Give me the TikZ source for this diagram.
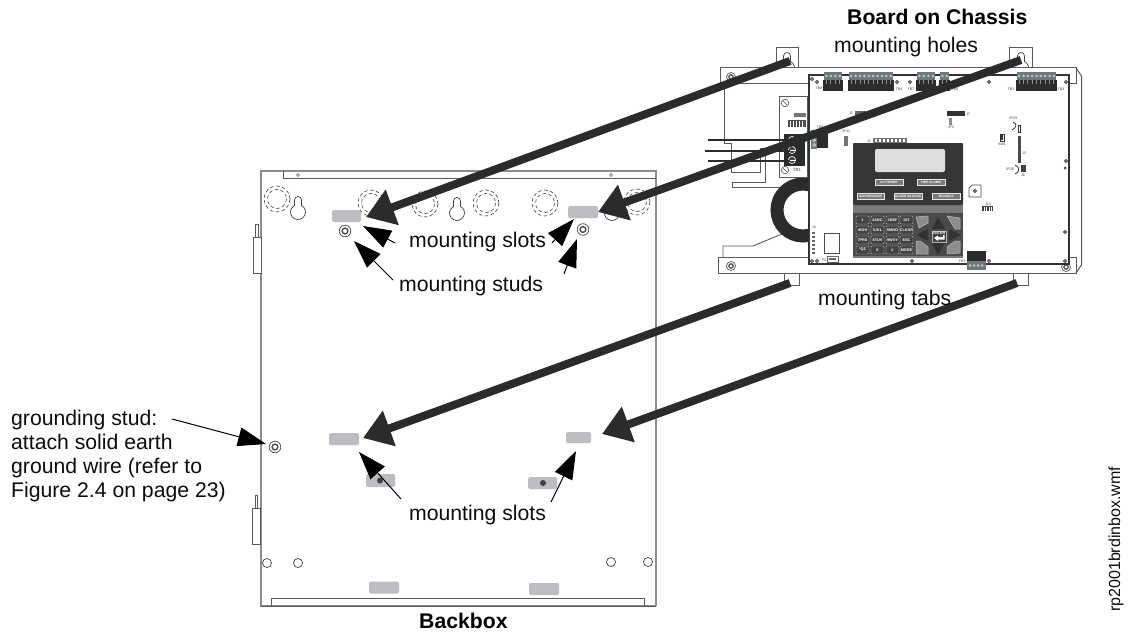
\documentclass[tikz,border=0pt]{standalone}
\usepackage{fontspec}
\setmainfont{Liberation Sans}
\usetikzlibrary{arrows.meta}
\definecolor{arrowdk}{HTML}{2B2B2B}
\definecolor{slotgray}{HTML}{BDBDC1}
\definecolor{linegray}{HTML}{5A5A5A}
\definecolor{boxgray}{HTML}{8C8C8C}
\definecolor{paneldk}{HTML}{363636}
\definecolor{keybg}{HTML}{7A7A7A}
\definecolor{keydk}{HTML}{424242}
\definecolor{termgray}{HTML}{6F7878}
\definecolor{disp}{HTML}{DEDEDE}
\tikzset{
  bigarrow/.style={draw=arrowdk,line width=8pt,-{Triangle[length=28pt,width=36pt,fill=arrowdk]}},
  thinarrow/.style={draw=black,line width=1pt,-{Triangle[length=28pt,width=19pt,fill=black]}},
  label/.style={font=\fontsize{21.2}{24}\selectfont,anchor=base west,inner sep=0pt,text=black!95},
  boldlabel/.style={font=\fontsize{21.2}{24}\selectfont\bfseries,anchor=base west,inner sep=0pt,text=black},
  slot/.style={fill=slotgray,draw=none,rounded corners=1.5pt},
  outline/.style={draw=linegray,line width=0.8pt,fill=none},
  chassis/.style={draw=linegray,line width=1pt},
  knock/.style={draw=black!75,line width=0.6pt,dash pattern=on 3.5pt off 2.5pt,fill=none},
  tiny/.style={font=\fontsize{3.6}{4}\selectfont,inner sep=0pt,text=black!75},
  keytext/.style={font=\fontsize{3.8}{4}\bfseries\selectfont,inner sep=0pt,text=white},
  ledtext/.style={font=\fontsize{3.2}{4}\bfseries\selectfont,inner sep=0pt,text=white,fill=keybg,draw=black!10,line width=0.4pt,minimum height=5.5pt},
  hole/.style={draw=black!70,line width=0.8pt,fill=white},
}
\newcommand{\slotrect}[4]{\fill[slot] (#1,#2) rectangle (#3,#4);}
\newcommand{\studmark}[2]{%
  \draw[black!65,line width=0.8pt,fill=white] (#1,#2) circle[radius=5.8pt];
  \draw[black!70,line width=1.4pt,fill=white] (#1,#2) circle[radius=2.9pt];}
\newcommand{\platestud}[2]{%
  \draw[black!65,line width=0.7pt,fill=white] (#1,#2) circle[radius=4.5pt];
  \draw[black!70,line width=1.2pt,fill=white] (#1,#2) circle[radius=2.2pt];}
\newcommand{\knockout}[2]{%
  \draw[knock] (#1,#2) circle[radius=13pt];
  \draw[knock] (#1,#2) circle[radius=9.5pt];}
\newcommand{\keyholeshape}[2]{%
  \draw[draw=black!75,line width=0.7pt,fill=white] (#1-3.5,#2+4) arc[start angle=180,end angle=360,radius=3.5pt]
    -- (#1+3.5,#2+9.37) arc[start angle=-62,end angle=242,radius=7.5pt] -- cycle;}
\newcommand{\termblock}[3]{%
  \fill[termgray] (#1,72) rectangle (#2,80);
  \fill[arrowdk] (#1-1,80) rectangle (#2+1,91);
  \foreach \n in {1,...,#3}{\fill[black!25] ({#1+(#2-#1)*(\n-0.5)/#3},76) circle[radius=1.5pt];}
  \foreach \n in {1,...,#3}{\fill[black!45] ({#1+(#2-#1)*(\n-0.5)/#3-0.4},80) rectangle ++(0.8,4);}}
\newcommand{\boardhole}[2]{\draw[black!75,line width=0.9pt,fill=white] (#1,#2) circle[radius=1.6pt];}
\begin{document}
\begin{tikzpicture}[x=1pt,y=1pt,yscale=-1]
\useasboundingbox (0,0) rectangle (1128,634);
\fill[white] (0,0) rectangle (1128,634);

% ---------- Backbox
\draw[draw=boxgray,line width=1.2pt] (656,606) -- (261,606) -- (261,171) -- (656,171) -- (656,606);
\draw[draw=linegray,line width=0.8pt] (261,606) -- (656,606);
\draw[outline] (283,171) -- (283,178) -- (656,178);
\draw[outline] (271,606) -- (271,598.5) -- (644,598.5) -- (644,606);
\draw[black!65,line width=0.6pt] (298,175) circle[radius=1.5pt] (611,175) circle[radius=1.5pt];
\draw[outline,fill=white] (253,237) rectangle (261,273);
\draw[outline,fill=white] (255.5,224) rectangle (258,237);
\draw[outline,fill=white] (252.5,508) rectangle (260.5,544);
\draw[outline,fill=white] (255,495) rectangle (257.5,508);
\foreach \cx/\cy in {277/199,371/203,425/204,486/203,545/203,637/202}{\knockout{\cx}{\cy}}
\keyholeshape{298}{196}
\keyholeshape{457}{197}
\keyholeshape{612}{197}
\foreach \cx/\cy in {267/563,298/563,611/562,648/562}{\draw[black!75,line width=0.7pt] (\cx,\cy) circle[radius=4.5pt];}
\slotrect{332}{210}{361}{222}
\slotrect{568}{206}{598}{218}
\slotrect{329}{433}{359}{445}
\slotrect{566}{432}{591}{443}
\slotrect{366}{474}{395}{487}
\slotrect{528}{477}{557}{489}
\slotrect{369}{581.5}{399}{593.5}
\slotrect{529}{583}{559}{595}
\fill[black!75] (380,480.5) circle[radius=3pt] (543,483) circle[radius=3pt];
\studmark{345}{231}
\studmark{583}{229.5}
\studmark{275}{447}

% ---------- Chassis
\draw[chassis] (776,68) -- (776,48) -- (798,48) -- (798,68);
\draw[chassis] (1009,68) -- (1009,48) -- (1032,48) -- (1032,68);
\begin{scope}
\clip (770,45) rectangle (1040,68);
\keyholeshape{787}{52}
\keyholeshape{1021}{52}
\end{scope}
\draw[chassis] (1076,84) -- (1076,68) -- (720,68) -- (720,84) -- (809,84);
\draw[chassis] (1076,68) -- (1081.5,76) -- (1081.5,265) -- (1076,273);
\draw[chassis] (1069,84) -- (1076,84);
\draw[chassis] (1069,257) -- (1076,257) -- (1076,273) -- (718,273) -- (718,257) -- (809,257);
\draw[chassis] (784,273) -- (784,285) -- (799,285) -- (799,273);
\draw[chassis] (1013,273) -- (1013,285) -- (1028,285) -- (1028,273);
\platestud{731}{77}
\platestud{731}{266}
\platestud{1066}{267}
\draw[chassis,line width=0.9pt] (724,84) -- (724,143) -- (731,143) -- (731,172) -- (760,172) -- (760,148) -- (765,148) -- (765,182) -- (732,182) -- (732,187) -- (780,187);
\draw[chassis,line width=0.9pt] (782,234) -- (753,246) -- (723,246) -- (723,257);
% toroid
\begin{scope}
\clip (760,170) rectangle (809,250);
\draw[arrowdk,line width=13pt] (803,210) circle[radius=26pt];
\end{scope}
% TB1 panel
\draw[chassis,fill=white] (779,97) rectangle (807,177);
\fill[black!55] (794,113) rectangle (806,117);
\fill[black!70] (788,120) rectangle (806,127);
\foreach \hx in {790,793,796,799,802}{\fill[white] (\hx,120.5) rectangle ++(1,6);}
\fill[arrowdk] (784,134) rectangle (805,166);
\foreach \sy in {140,150,160}{\draw[white,line width=0.6pt,fill=keydk] (792,\sy) circle[radius=3.6pt];
  \draw[white,line width=0.5pt] (788,\sy) -- (796,\sy);}
\draw[black!70,line width=0.6pt] (785,103) circle[radius=3.8pt] (785,170) circle[radius=3.8pt];
\draw[black!70,line width=0.5pt] (783,101) -- (787,105) (783,168) -- (787,172);
\node[tiny,font=\fontsize{4.5}{5}\selectfont] (tbone) at (797,170) {TB1};
\draw[arrowdk,line width=1.5pt] (708,140) -- (790,140);
\draw[arrowdk,line width=1.5pt] (705,151) -- (790,151);
\draw[arrowdk,line width=1.5pt] (708,161) -- (790,161);

% ---------- Board
\draw[draw=black!80,line width=1.1pt,fill=white] (809,75) rectangle (1069,264);
\termblock{824}{842}{4}
\termblock{849}{893}{10}
\termblock{917}{935}{4}
\termblock{940}{949}{2}
\termblock{1017}{1056}{9}
\foreach \bx/\by in {812/79,817/82,897/82,910/82,989/82,1066/82,1066/161,1065/232,1065/261,912/261,989/261,812/261,817/261}{\boardhole{\bx}{\by}}
\fill[black!75] (1065,168) circle[radius=1.5pt];
\node[tiny] (tb8) at (819,88) {TB8};
\node[tiny] (tb4) at (899,89) {TB4};
\node[tiny] (tb7) at (911,89) {TB7};
\node[tiny] (tb6) at (955,89) {TB6};
\node[tiny] (tb2) at (1011,89) {TB2};
\node[tiny] (tb5) at (1061,89) {TB3};
% small connectors
\node[tiny] (jtwo) at (851,113) {J2};
\fill[black!60] (855,111) rectangle (866,116);
\fill[black!80] (947,111) rectangle (965,116);
\node[tiny] (jseven) at (968,114) {J7};
\fill[black!45] (949,118) rectangle (952,125);
\node[tiny] (jptwo) at (951,127) {JP2};
\node[tiny] (jpone) at (846,131) {JP31};
\fill[black!55] (844,136) rectangle (848,146);
\node[tiny] (jone) at (869,141) {J1};
\fill[black!55] (873,138) rectangle (907,143);
\foreach \tx in {875,879,...,905}{\fill[white] (\tx,139) rectangle ++(1.5,3);}
% TB9
\fill[arrowdk] (817,131) rectangle (828,148);
\fill[termgray] (811,130) rectangle (817,149);
\draw[white,line width=0.5pt] (814,140) circle[radius=1.4pt] (814,145) circle[radius=1.4pt];
\node[tiny] (tbnine) at (820,127) {TB9};
% right-hand parts
\node[tiny] (jpnine) at (1013,118) {JP29};
\draw[black!80,line width=0.8pt] (1013,122) .. controls (1018,124) and (1016,128) .. (1012,130);
\draw[black!80,line width=0.8pt] (1018,125) rectangle (1020,132);
\fill[black!70] (1018,136) rectangle (1020.5,163);
\node[tiny] (jthree) at (1024,153) {J3};
\node[tiny] (jpthirty) at (1010,169) {JP30};
\draw[black!80,line width=0.8pt] (1015,165) .. controls (1020,167) and (1020,172) .. (1015,174);
\fill[black!75] (1021,165) rectangle (1026,172);
\node[tiny] (jsix) at (1023,175) {J6};
\draw[black!80,line width=0.7pt] (1000,134) rectangle (1004,141);
\fill[black!80] (1001,135) rectangle (1003,140);
\node[tiny] (swone) at (1002,144) {SW1};
% J13 region
\draw[black!70,line width=0.7pt] (972,185) -- (981,185) -- (981,197) -- (969,197) -- (969,188) -- cycle;
\boardhole{975}{191}
\node[tiny] (jthirteen) at (988,204) {J13};
\fill[black!75] (982,206) rectangle (993,211);
\foreach \tx in {983.5,986,988.5,991}{\fill[white] (\tx,206.5) rectangle ++(0.8,4);}
% bottom-left parts
\node[tiny] (jfour) at (814,227) {J4};
\foreach \sy in {232,236,...,252}{\fill[black!60] (812,\sy) rectangle ++(3,2);}
\draw[black!70,line width=0.9pt] (824,233) rectangle (839,253);
\draw[black!60,line width=0.5pt] (827,256) rectangle (838,262);
\fill[black!60] (829,258) rectangle (836,260);
\node[tiny] (fone) at (824,260) {F1};
% bottom terminal
\fill[arrowdk] (967,251) rectangle (986,261);
\fill[termgray] (967,261) rectangle (986,270);
\foreach \tx in {970,974,978,982}{\fill[black!25] (\tx,265.5) circle[radius=1.5pt];}
\node[tiny] (tbthree) at (962,261) {TB3};

% ---------- Annunciator / keypad
\fill[keybg] (853,143) rectangle (963,258);
\fill[paneldk,rounded corners=1.5pt] (853,143) -- (963,143) -- (963,205) -- (853,205) -- cycle;
\fill[disp,rounded corners=2pt] (875,149) rectangle (945,172);
\node[ledtext,minimum width=28pt] (acpower) at (889,182) {AC POWER};
\node[ledtext,minimum width=28pt] (firealarm) at (931,182) {FIRE ALARM};
\node[ledtext,minimum width=27pt] (superv) at (870.5,196) {SUPERVISORY};
\node[ledtext,minimum width=28pt] (alarmsil) at (908,196) {ALARM SILENCE};
\node[ledtext,minimum width=28pt] (trouble) at (946,196) {TROUBLE};
\fill[paneldk!70!keybg,draw=none] (853,213) rectangle (963,256);
\foreach \kx/\kw/\col in {856/13/0,871/13/1,886/13/2,900/13/3}{
  \foreach \ky/\row in {216/0,226/1,236/2,246/3}{
    \fill[keydk,draw=black!30,line width=0.4pt,rounded corners=1pt] (\kx,\ky) rectangle ++(\kw,8);
  }
}
\foreach \nm/\kx/\ky/\txt in {
  a/862.5/220/1, b/877.5/220/2ABC, c/892.5/220/3DEF, d/906.5/220/1ST,
  e/862.5/230/4GHI, f/877.5/230/5JKL, g/892.5/230/6MNO, h/906.5/230/CLEAR,
  i/862.5/240/7PRS, j/877.5/240/8TUV, k/892.5/240/9WXY, l/906.5/240/ESC,
  m/862.5/250/{*QZ}, n/877.5/250/0, o/892.5/250/\#, p/906.5/250/MODE}{
  \node[keytext] (key\nm) at (\kx,\ky) {\txt};
}
\fill[black!80] (938,217) -- (945,229) -- (931.5,229) -- cycle;
\fill[black!80] (938,255) -- (945,243) -- (931.5,243) -- cycle;
\fill[black!80] (916,235) -- (928,229) -- (928,241) -- cycle;
\fill[black!80] (961,235) -- (949,229) -- (949,241) -- cycle;
\fill[black!45,draw=black!25,line width=0.5pt] (916,217) -- (928,216) -- (928,223) -- (919,228) -- cycle;
\fill[black!45,draw=black!25,line width=0.5pt] (947,216) -- (960,218) -- (960,229) -- (955,229) -- cycle;
\fill[black!45,draw=black!25,line width=0.5pt] (916,241) -- (920,241) -- (928,247) -- (928,254) -- (916,254) -- cycle;
\fill[black!45,draw=black!25,line width=0.5pt] (955,241) -- (960,241) -- (960,253) -- (947,254) -- (947,247) -- cycle;
\fill[keydk,draw=black!30,line width=0.4pt] (932,231) rectangle (946,242);
\node[keytext] (enterkey) at (939,233.5) {ENTER};
\fill[white] (934,238) -- (938,235.5) -- (938,237) -- (943,237) -- (943,235) -- (944.5,235) -- (944.5,239.5) -- (938,239.5) -- (938,241) -- cycle;

% ---------- Anchors for connectors
\coordinate (tabA) at (790,61);
\coordinate (tabB) at (1021,60);
\coordinate (tabC) at (790,283);
\coordinate (tabD) at (1017,283);
\coordinate (slotA) at (366,217);
\coordinate (slotB) at (598,212);
\coordinate (slotC) at (363,438);
\coordinate (slotD) at (602,434);
\draw[bigarrow] (tabA) -- (slotA);
\draw[bigarrow] (tabB) -- (slotB);
\draw[bigarrow] (tabC) -- (slotC);
\draw[bigarrow] (tabD) -- (slotD);

\coordinate (sA) at (395,243); \coordinate (sAt) at (363,226);
\coordinate (sB) at (552,243); \coordinate (sBt) at (574,219);
\coordinate (sC) at (393,280); \coordinate (sCt) at (354,241);
\coordinate (sD) at (564,274); \coordinate (sDt) at (577,239);
\coordinate (sE) at (401,499); \coordinate (sEt) at (359,452);
\coordinate (sF) at (551,502); \coordinate (sFt) at (576,451);
\coordinate (sG) at (172,419); \coordinate (sGt) at (266,444);
\draw[thinarrow] (sA) -- (sAt);
\draw[thinarrow] (sB) -- (sBt);
\draw[thinarrow] (sC) -- (sCt);
\draw[thinarrow] (sD) -- (sDt);
\draw[thinarrow] (sE) -- (sEt);
\draw[thinarrow] (sF) -- (sFt);
\draw[thinarrow] (sG) -- (sGt);

% ---------- Labels
\node[boldlabel] (titleboard) at (847,25) {Board on Chassis};
\node[label] (holes) at (834,53) {mounting holes};
\node[label,fill=none] (tabs) at (818,305) {mounting tabs};
\node[label] (slotstop) at (409,247) {mounting slots};
\node[label] (studs) at (399,291) {mounting studs};
\node[label] (slotsbot) at (409,520) {mounting slots};
\node[boldlabel] (backbox) at (419,628) {Backbox};
\node[font=\fontsize{21.2}{24}\selectfont,anchor=north west,inner sep=0pt,align=left,text=black!95] (ground) at (11,410) {grounding stud:\\attach solid earth\\ground wire (refer to\\Figure 2.4 on page 23)};
\node[font=\fontsize{16}{18}\selectfont,rotate=90,anchor=base west,inner sep=0pt,text=black!95] (fname) at (1120,612) {rp2001brdinbox.wmf};
\end{tikzpicture}
\end{document}
